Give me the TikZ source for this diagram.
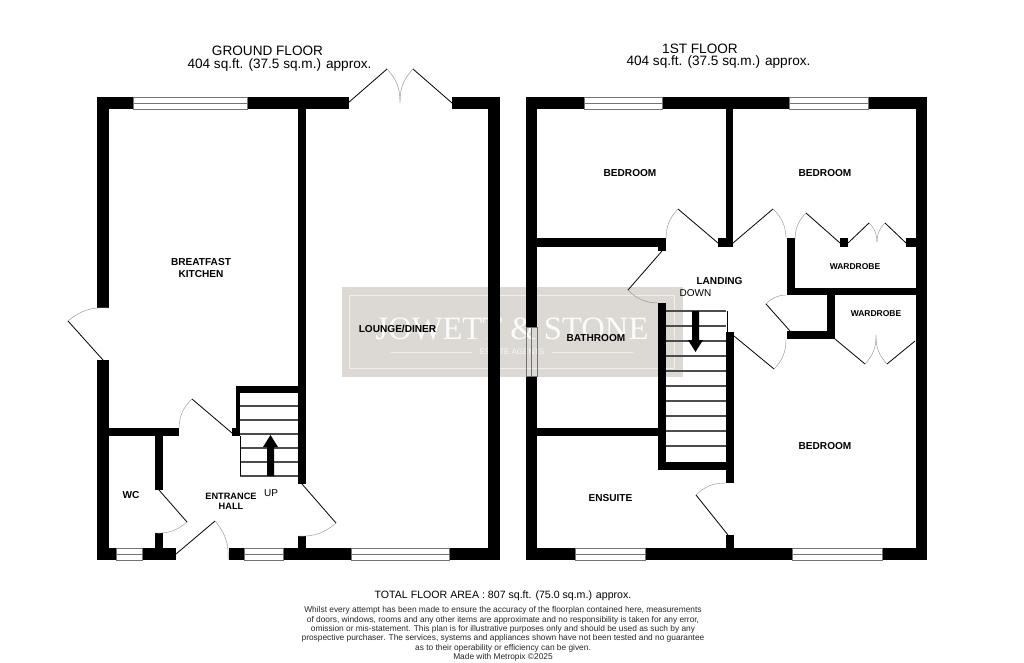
\documentclass[tikz,border=0pt]{standalone}
\usepackage{fontspec}
\setmainfont{Liberation Sans}
\newfontfamily\markfont{Liberation Serif}
\tikzset{
  wall/.style={fill=black,draw=none},
  leaf/.style={line width=0.8pt,color=black},
  swing/.style={line width=0.4pt,color=black!45},
  glass/.style={line width=0.5pt,color=black!55},
  tread/.style={line width=1.1pt,color=black!70},
  room/.style={font=\fontsize{10.1}{12}\selectfont\bfseries,align=center,inner sep=0pt},
  closet/.style={font=\fontsize{8.5}{10}\selectfont\bfseries,align=center,inner sep=0pt},
  plain/.style={font=\fontsize{10}{11}\selectfont,inner sep=0pt},
  title/.style={font=\fontsize{13.6}{14}\selectfont,inner sep=0pt,align=center}
}
\def\door(#1)(#2)(#3)(#4){\draw[leaf] (#1) -- (#2); \draw[swing] (#2) to[bend #4=22] (#3);}
\def\hwin(#1,#2,#3){\draw[glass] (#1,#3) rectangle (#2,#3+12); \draw[glass] (#1,#3+6) -- (#2,#3+6);}
\begin{document}
\begin{tikzpicture}[x=1pt,y=-1pt]
	\useasboundingbox (0,0) rectangle (1024,663);
	%%%%% START %%%%%

	% agents' mark
	\fill[white] (0,0) rectangle (1024,663);
	\fill[color={rgb,255:red,220;green,217;blue,212}] (342,287) rectangle (683,377);
	\draw[white,opacity=0.6,line width=0.4pt] (349,295) rectangle (674,368);
	\node[white,opacity=0.9,inner sep=0pt,font=\fontsize{32.6}{33}\selectfont\markfont] (mark) at (512,329) {JOWETT \& STONE};
	\node[white,opacity=0.8,inner sep=0pt,font=\fontsize{8}{8}\selectfont] (agents) at (512,352) {ESTATE AGENTS};
	\draw[white,opacity=0.6,line width=0.4pt] (391,352) -- (472,352);
	\draw[white,opacity=0.6,line width=0.4pt] (552,352) -- (633,352);

	% ground floor shell
	\fill[wall] (97,97) rectangle (133,109);
	\fill[wall] (247,97) rectangle (349,109);
	\fill[wall] (452,97) rectangle (500,109);
	\fill[wall] (97,97) rectangle (109,308);
	\fill[wall] (97,360) rectangle (109,560);
	\fill[wall] (488,97) rectangle (500,560);
	\fill[wall] (97,548) rectangle (116,560);
	\fill[wall] (142,548) rectangle (176,560);
	\fill[wall] (229,548) rectangle (244,560);
	\fill[wall] (283,548) rectangle (351,560);
	\fill[wall] (449,548) rectangle (500,560);
	\hwin(133,247,97);
	\hwin(116,142,548);
	\hwin(244,283,548);
	\hwin(351,449,548);

	% ground floor partitions
	\fill[wall] (298,109) rectangle (306,484);
	\fill[wall] (298,536) rectangle (306,548);
	\fill[wall] (109,428) rectangle (179,436);
	\fill[wall] (155,436) rectangle (163,490);
	\fill[wall] (155,533) rectangle (163,548);
	\fill[wall] (236,386) rectangle (298,393);
	\fill[wall] (236,393) rectangle (240,436);
	\fill[wall] (232,428) rectangle (240,436);

	% stairs up
	\foreach \y in {406,420,434,448,462,476}
		\draw[tread] (240,\y) -- (298,\y);
	\draw[line width=0.6pt] (240,436) -- (240,476);
	\fill[wall] (267,476) -- (267,447) -- (263,447) -- (270.5,435) -- (278,447) -- (274,447) -- (274,476) -- cycle;

	% ground floor doors
	\door(176,554)(215,521)(228,560)(left);
	\door(232,433)(192,399)(179,428)(right);
	\door(159,490)(187,522)(155,533)(left);
	\door(302,484)(336,523)(298,536)(left);
	\door(103,360)(68,321)(109,308)(left);
	\door(348,103)(387,69)(400,103)(left);
	\door(452,103)(413,69)(400,103)(right);

	% 1st floor shell
	\fill[wall] (526,97) rectangle (584,109);
	\fill[wall] (662,97) rectangle (789,109);
	\fill[wall] (868,97) rectangle (927,109);
	\fill[wall] (526,97) rectangle (537,327);
	\fill[wall] (526,376) rectangle (537,560);
	\fill[wall] (916,97) rectangle (927,560);
	\fill[wall] (526,548) rectangle (575,560);
	\fill[wall] (645,548) rectangle (792,560);
	\fill[wall] (882,548) rectangle (927,560);
	\hwin(584,662,97);
	\hwin(789,868,97);
	\hwin(575,645,548);
	\hwin(792,882,548);
	\draw[glass] (526,327) rectangle (537,376);
	\draw[glass] (531.5,327) -- (531.5,376);

	% 1st floor partitions
	\fill[wall] (537,238) rectangle (666,247);
	\fill[wall] (658,247) rectangle (666,251);
	\fill[wall] (726,109) rectangle (733,247);
	\fill[wall] (718,238) rectangle (726,247);
	\fill[wall] (658,303) rectangle (666,470);
	\fill[wall] (666,462) rectangle (726,470);
	\fill[wall] (726,332) rectangle (734,483);
	\fill[wall] (726,535) rectangle (734,548);
	\fill[wall] (537,428) rectangle (658,436);
	\fill[wall] (787,238) rectangle (795,295);
	\fill[wall] (795,288) rectangle (916,295);
	\fill[wall] (840,238) rectangle (848,247);
	\fill[wall] (906,238) rectangle (916,247);
	\fill[wall] (827,295) rectangle (835,339);
	\fill[wall] (787,331) rectangle (827,339);

	% stairs down
	\foreach \y in {311,326,341,356,371,386,401,416,431,446}
		\draw[tread] (666,\y) -- (726,\y);
	\draw[line width=0.6pt] (727,311) -- (727,332);
	\fill[wall] (692,311) -- (692,340) -- (688,340) -- (695.5,352) -- (703,340) -- (699,340) -- (699,311) -- cycle;

	% 1st floor doors
	\door(662,251)(628,290)(658,303)(right);
	\door(718,243)(678,209)(666,240)(right);
	\door(733,243)(773,209)(786,238)(left);
	\door(840,243)(806,213)(795,240)(right);
	\door(848,243)(869,223)(877,242)(left);
	\door(906,243)(885,223)(877,242)(right);
	\door(790,331)(766,304)(786,295)(left);
	\door(734,336)(774,369)(786,339)(right);
	\door(835,339)(865,364)(876,335)(right);
	\door(915,341)(887,364)(876,335)(left);
	\door(728,535)(696,495)(726,483)(left);

	% rooms
	\node[room] (kitchen) at (201,268) {BREATFAST\\KITCHEN};
	\node[room] (lounge) at (397.5,329) {LOUNGE/DINER};
	\node[room] (wc) at (131,495) {WC};
	\node[room,font=\fontsize{9.2}{9.5}\selectfont\bfseries] (hall) at (231,501.5) {ENTRANCE\\HALL};
	\node[plain] (up) at (271,493) {UP};
	\node[room] (bed1) at (630,173) {BEDROOM};
	\node[room] (bed2) at (825,173) {BEDROOM};
	\node[room] (bed3) at (825,446) {BEDROOM};
	\node[room] (landing) at (719.5,281) {LANDING};
	\node[plain] (down) at (695.5,293) {DOWN};
	\node[room] (bath) at (596,338) {BATHROOM};
	\node[room] (ensuite) at (610.5,498) {ENSUITE};
	\node[closet] (ward1) at (855,267) {WARDROBE};
	\node[closet] (ward2) at (876,314) {WARDROBE};

	% titles and small print
	\node[title] (ground) at (267.5,51) {GROUND FLOOR};
	\node[title] (groundarea) at (279.5,65) {404 sq.ft. (37.5 sq.m.) approx.};
	\node[title] (first) at (700,49) {1ST FLOOR};
	\node[title] (firstarea) at (718.5,62) {404 sq.ft. (37.5 sq.m.) approx.};
	\node[inner sep=0pt,font=\fontsize{10.6}{13}\selectfont] (total) at (503,596) {TOTAL FLOOR AREA : 807 sq.ft. (75.0 sq.m.) approx.};
	\node[inner sep=0pt,anchor=north,align=center,color=black!85,font=\fontsize{8.35}{9.35}\selectfont] (notice) at (503,606.5) {Whilst every attempt has been made to ensure the accuracy of the floorplan contained here, measurements\\
	of doors, windows, rooms and any other items are approximate and no responsibility is taken for any error,\\
	omission or mis-statement. This plan is for illustrative purposes only and should be used as such by any\\
	prospective purchaser. The services, systems and appliances shown have not been tested and no guarantee\\
	as to their operability or efficiency can be given.\\
	Made with Metropix \textcopyright 2025};

	%%%%% END %%%%%
\end{tikzpicture}
\end{document}
